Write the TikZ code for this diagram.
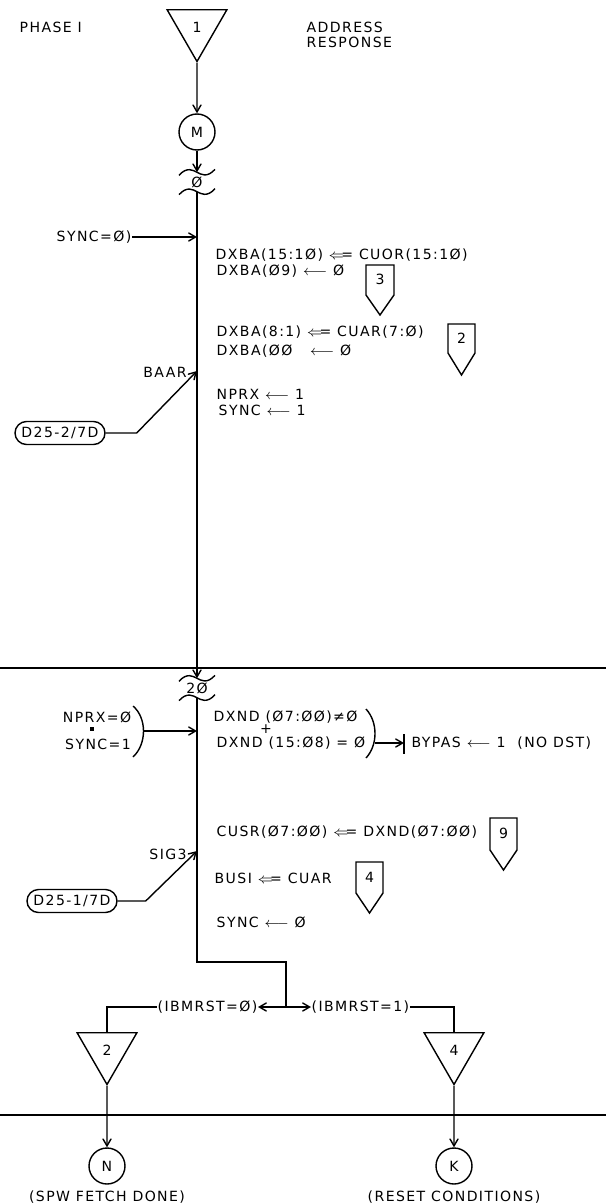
\documentclass[tikz,border=0pt]{standalone}
\usepackage{amsmath}
\usepackage{fontspec}
\setmainfont{DejaVu Sans}[LetterSpace=10]
\usetikzlibrary{arrows,positioning,calc,shapes.geometric}

\begin{document}
\begin{tikzpicture}[>=angle 60, thick, x=0.02cm, y=-0.02cm, font=\fontsize{8}{8.5}\selectfont]
	\tikzstyle{every node}=[inner sep=0pt]
	\tikzstyle{conn}=[draw=black, regular polygon, regular polygon sides=3, shape border rotate=180, minimum size=1.38cm]
	\tikzstyle{pnt}=[draw=black, circle, minimum size=0.72cm]
	\tikzstyle{ref}=[draw=black, rounded corners=0.23cm, minimum width=1.8cm, minimum height=0.46cm]
	\tikzstyle{brk}=[minimum height=0.36cm]
	\tikzstyle{txt}=[anchor=west]

	\useasboundingbox (0,0) rectangle (606,1203);

	% phase 1 entry
	\node (ph) [txt] at (19,27) {PHASE I};
	\node (ar) [txt, align=left] at (306,35) {ADDRESS\\RESPONSE};
	\node (c1) [conn] at (197,27) {1};
	\node (m) [pnt] at (197,132) {M};
	\node (b1) [brk] at (197,182) {Ø};
	\node (b2) [brk] at (197,688) {2Ø};

	\draw [->] (c1) -- (m);
	\draw [->] (m) -- (b1.north);
	\draw [->] (b1.south) -- (b2.north);

	% break marks
	\draw ($(b1.north)+(-18,3)$) .. controls ($(b1.north)+(-10,-6)$) and ($(b1.north)+(-4,-2)$) .. (b1.north) .. controls ($(b1.north)+(4,2)$) and ($(b1.north)+(10,6)$) .. ($(b1.north)+(18,-3)$);
	\draw ($(b1.south)+(-18,3)$) .. controls ($(b1.south)+(-10,-6)$) and ($(b1.south)+(-4,-2)$) .. (b1.south) .. controls ($(b1.south)+(4,2)$) and ($(b1.south)+(10,6)$) .. ($(b1.south)+(18,-3)$);
	\draw ($(b2.north)+(-18,3)$) .. controls ($(b2.north)+(-10,-6)$) and ($(b2.north)+(-4,-2)$) .. (b2.north) .. controls ($(b2.north)+(4,2)$) and ($(b2.north)+(10,6)$) .. ($(b2.north)+(18,-3)$);
	\draw ($(b2.south)+(-18,3)$) .. controls ($(b2.south)+(-10,-6)$) and ($(b2.south)+(-4,-2)$) .. (b2.south) .. controls ($(b2.south)+(4,2)$) and ($(b2.south)+(10,6)$) .. ($(b2.south)+(18,-3)$);

	% address transfer
	\node (syn0) [txt] at (56,237) {SYNC=Ø)};
	\draw [->] (syn0) -- (syn0 -| b1);
	\node (l1) [txt] at (215,255) {DXBA(15:1Ø) $\Longleftarrow$ CUOR(15:1Ø)};
	\node (l2) [txt] at (216,271) {DXBA(Ø9) $\longleftarrow$ Ø};
	\node (l3) [txt] at (216,332) {DXBA(8:1) $\Longleftarrow$ CUAR(7:Ø)};
	\node (l4) [txt] at (216,351) {DXBA(ØØ \ \ $\longleftarrow$ Ø};
	\node (l5) [txt] at (216,394) {NPRX $\longleftarrow$ 1};
	\node (l6) [txt] at (218,410) {SYNC $\longleftarrow$ 1};

	\draw (366,265) -- (394,265) -- (394,295) -- (380,315) -- (366,295) -- cycle;
	\node (tg3) at (380,279) {3};
	\draw (448,324) -- (475,324) -- (475,353) -- (461.5,375) -- (448,353) -- cycle;
	\node (tg2) at (461.5,338) {2};

	\node (baar) at (165,372) {BAAR};
	\coordinate (baarin) at (197,371);
	\node (r1) [ref] at (60,433) {D25-2/7D};
	\draw [->] (r1.east) -- ++(31,0) -- (baarin);

	% phase 20
	\coordinate (h1a) at (0,668); \coordinate (h1b) at (606,668);
	\draw (h1a) -- (h1b);

	\node (np0) at (97,717) {NPRX=Ø};
	\node (dt) [fill=black, minimum size=2.5pt] at (92,729) {};
	\node (sy1) at (98,744) {SYNC=1};
	\draw (133,706) .. controls (147,718) and (147,744) .. (133,757);
	\coordinate (pr1) at (144,731);
	\draw [->] (pr1) -- (pr1 -| b2);

	\node (dx1) [txt] at (213,717) {DXND (Ø7:ØØ)≠Ø};
	\node (pl) at (266,729) {+};
	\node (dx2) [txt] at (216,743) {DXND (15:Ø8) = Ø};
	\draw (366,709) .. controls (378,722) and (378,745) .. (366,758);
	\coordinate (pr2) at (375,743);
	\coordinate (bar) at (404,743);
	\draw [->] (pr2) -- (bar);
	\draw ($(bar)+(0,-9)$) -- ($(bar)+(0,11)$);
	\node (bp) [txt] at (411,743) {BYPAS $\longleftarrow$ 1 \ (NO DST)};

	\node (cs) [txt] at (216,832) {CUSR(Ø7:ØØ) $\Longleftarrow$ DXND(Ø7:ØØ)};
	\draw (490,818) -- (517,818) -- (517,850) -- (503.5,870) -- (490,850) -- cycle;
	\node (tg9) at (503.5,833) {9};
	\node (bs) [txt] at (214,878) {BUSI $\Longleftarrow$ CUAR};
	\draw (356,862) -- (383,862) -- (383,893) -- (369.5,913) -- (356,893) -- cycle;
	\node (tg4) at (369.5,877) {4};
	\node (sy0) [txt] at (216,922) {SYNC $\longleftarrow$ Ø};

	\node (sig) at (168,854) {SIG3};
	\coordinate (sigin) at (197,851);
	\node (r2) [ref] at (72,901) {D25-1/7D};
	\draw [->] (r2.east) -- ++(28,0) -- (sigin);

	% exits
	\coordinate (bend) at (286,962);
	\coordinate (jn) at (286,1007);
	\draw (b2.south) |- (bend) -- (jn);
	\node (ib0) [anchor=east] at (258,1007) {(IBMRST=Ø)};
	\node (ib1) [txt] at (311,1007) {(IBMRST=1)};
	\draw [->] (jn) -- (ib0.east);
	\draw [->] (jn) -- (ib1.west);

	\node (c2) [conn] at (107,1050) {2};
	\node (c4) [conn] at (454,1050) {4};
	\draw (ib0.west) -| (c2);
	\draw (ib1.east) -| (c4);

	\coordinate (h2a) at (0,1115); \coordinate (h2b) at (606,1115);
	\draw (h2a) -- (h2b);

	\node (n) [pnt] at (107,1166) {N};
	\node (k) [pnt] at (454,1166) {K};
	\draw [->] (c2) -- (n);
	\draw [->] (c4) -- (k);
	\node (nl) [below=3pt of n] {(SPW FETCH DONE)};
	\node (kl) [below=3pt of k] {(RESET CONDITIONS)};
\end{tikzpicture}
\end{document}
